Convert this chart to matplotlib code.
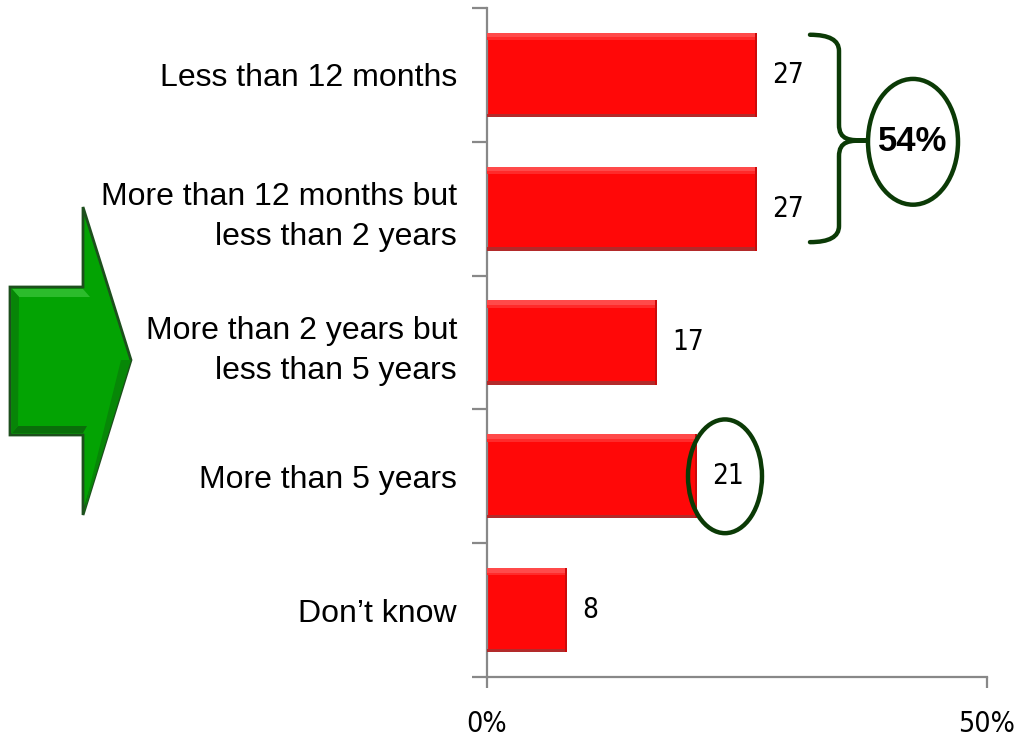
import matplotlib
matplotlib.use("Agg")
import matplotlib.pyplot as plt
from matplotlib.patches import Ellipse, Polygon, PathPatch
from matplotlib.path import Path

# Survey categories and percentages
categories = [
    "Less than 12 months",
    "More than 12 months but\nless than 2 years",
    "More than 2 years but\nless than 5 years",
    "More than 5 years",
    "Don\u2019t know",
]
values = [27, 27, 17, 21, 8]
x_ticks = [0, 50]
x_tick_labels = ["0%", "50%"]

W, H = 1019, 741
fig = plt.figure(figsize=(W / 100, H / 100), dpi=100)
fig.patch.set_facecolor("white")

ax = fig.add_axes([487 / W, (H - 677) / H, 500 / W, 669 / H])
ax.set_xlim(0, 50)
ax.set_ylim(4.5, -0.5)

GRAY = "#888888"
RED = "#ff0808"
DKGREEN = "#0b3a06"
NUM_FONT = dict(family="DejaVu Sans", stretch="condensed")

ypos = list(range(len(values)))
bar_h = 0.63

# main bars with a soft bevel: light top strip, dark bottom strip, dark right edge
ax.barh(ypos, values, height=bar_h, color=RED, edgecolor="none", zorder=2)
ax.barh([y - bar_h / 2 + 0.018 for y in ypos], values, height=0.036,
        color="#ff4a4a", edgecolor="none", zorder=3)
ax.barh([y - bar_h / 2 + 0.045 for y in ypos], values, height=0.02,
        color="#ff2a2a", edgecolor="none", zorder=3)
ax.barh([y + bar_h / 2 - 0.013 for y in ypos], values, height=0.026,
        color="#b32a2a", edgecolor="none", zorder=3)
ax.barh(ypos, [0.2] * len(values), left=[v - 0.2 for v in values],
        height=bar_h, color="#cc0a0a", edgecolor="none", zorder=3)

# value labels
for y, v in zip(ypos, values):
    ax.text(v + 1.5, y, f"{v}", ha="left", va="center", fontsize=20,
            color="black", zorder=5, **NUM_FONT)

# axes styling
for side in ("top", "right"):
    ax.spines[side].set_visible(False)
for side in ("left", "bottom"):
    ax.spines[side].set_color(GRAY)
    ax.spines[side].set_linewidth(1.6)

ax.set_yticks(ypos)
ax.set_yticklabels(categories, fontsize=23, family="Liberation Sans",
                   linespacing=1.42, ha="right")
ax.set_yticks([i - 0.5 for i in range(len(values) + 1)], minor=True)
ax.tick_params(axis="y", which="major", length=0, pad=21.6)
ax.tick_params(axis="y", which="minor", length=11, width=1.6, color=GRAY,
               direction="out")

ax.set_xticks(x_ticks)
ax.set_xticklabels(x_tick_labels, fontsize=20.5, **NUM_FONT)
ax.tick_params(axis="x", which="major", length=8, width=1.6, color=GRAY,
               direction="out", pad=16)

# curly brace grouping the first two categories
bx0, bx1, btip = 32.3, 35.2, 37.9
yt, ym, yb = -0.30, 0.49, 1.25
verts = [
    (bx0, yt), (bx1, yt), (bx1, yt + 0.12),
    (bx1, ym - 0.12),
    (bx1, ym), (btip - 1.6, ym), (btip, ym),
    (btip - 1.6, ym), (bx1, ym), (bx1, ym + 0.12),
    (bx1, yb - 0.12),
    (bx1, yb), (bx0, yb),
]
codes = [Path.MOVETO, Path.CURVE3, Path.CURVE3,
         Path.LINETO,
         Path.CURVE4, Path.CURVE4, Path.CURVE4,
         Path.CURVE4, Path.CURVE4, Path.CURVE4,
         Path.LINETO,
         Path.CURVE3, Path.CURVE3]
ax.add_patch(PathPatch(Path(verts, codes), facecolor="none", edgecolor=DKGREEN,
                       lw=3.2, clip_on=False, zorder=6, capstyle="round"))

# combined share of the first two categories
total = values[0] + values[1]
ax.add_patch(Ellipse((42.6, 0.5), 9.0, 0.94, facecolor="white",
                     edgecolor=DKGREEN, lw=3.2, clip_on=False, zorder=6))
ax.text(42.6, 0.5, f"{total}%", ha="center", va="center", fontsize=25,
        fontweight="bold", family="Liberation Sans", zorder=7, clip_on=False)

# highlight around the "More than 5 years" value
ax.add_patch(Ellipse((values[3] + 2.8, 3.0), 7.4, 0.85, facecolor="none",
                     edgecolor=DKGREEN, lw=3.2, clip_on=False, zorder=6))

# green block arrow on the left
def fp(x, y):
    return (x / W, 1 - y / H)

arrow_pts = [fp(10, 287), fp(83, 287), fp(83, 207), fp(131, 360),
             fp(83, 515), fp(83, 435), fp(10, 435)]
fig.patches.append(Polygon(arrow_pts, closed=True, transform=fig.transFigure,
                           facecolor="#03a303", edgecolor="#1d4f1d", lw=2.0,
                           joinstyle="miter"))
# bevel shading on the arrow
fig.patches.append(Polygon([fp(12, 289), fp(83, 289), fp(90, 297), fp(19, 297)],
                           closed=True, transform=fig.transFigure,
                           facecolor="#2cbc2c", edgecolor="none"))
fig.patches.append(Polygon([fp(12, 433), fp(83, 433), fp(87, 426), fp(18, 426)],
                           closed=True, transform=fig.transFigure,
                           facecolor="#0a6e0a", edgecolor="none"))
fig.patches.append(Polygon([fp(12, 289), fp(19, 297), fp(18, 426), fp(12, 433)],
                           closed=True, transform=fig.transFigure,
                           facecolor="#078507", edgecolor="none"))
fig.patches.append(Polygon([fp(131, 360), fp(121, 360), fp(86, 502), fp(84, 513)],
                           closed=True, transform=fig.transFigure,
                           facecolor="#078707", edgecolor="none"))

fig.savefig("out.png", dpi=100, facecolor="white")
